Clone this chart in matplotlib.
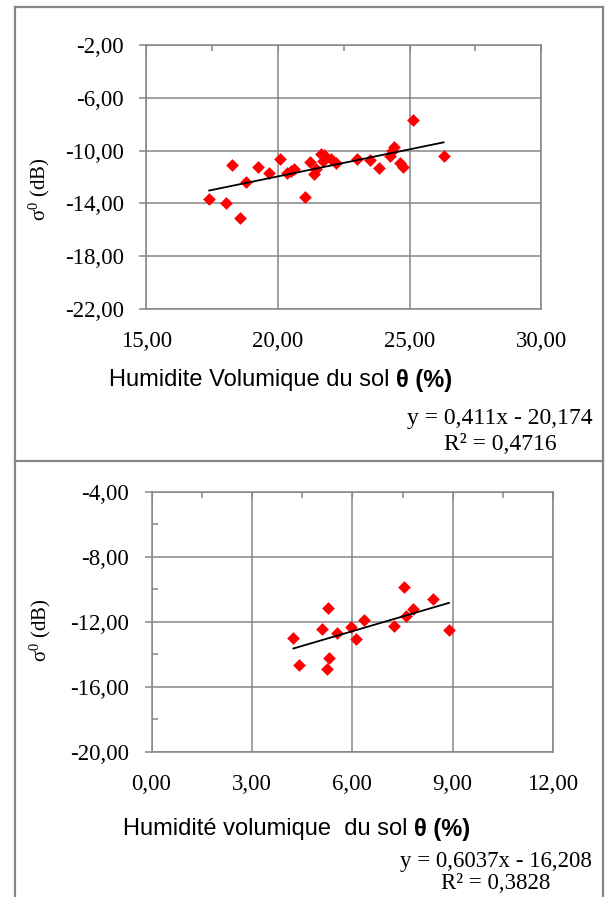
import numpy as np
import matplotlib
matplotlib.use("Agg")
import matplotlib.pyplot as plt
from matplotlib.ticker import MultipleLocator, FuncFormatter
from matplotlib.lines import Line2D

# -----------------------------
# Data
# -----------------------------
# top panel
theta_1 = [17.39, 18.01, 18.24, 18.57, 18.77, 19.23, 19.66, 20.09, 20.34, 20.48,
           20.62, 21.04, 21.23, 21.43, 21.38, 21.65, 21.73, 21.72, 22.00, 22.20,
           22.99, 23.49, 23.85, 24.27, 24.42, 24.32, 24.63, 24.73, 25.11, 26.29]
sigma_1 = [-13.67, -13.95, -11.09, -15.14, -12.38, -11.27, -11.67, -10.61, -11.70, -11.55,
           -11.42, -13.54, -10.89, -11.42, -11.75, -10.23, -10.35, -10.81, -10.66, -10.96,
           -10.66, -10.71, -11.29, -10.41, -9.70, -10.00, -10.96, -11.27, -7.65, -10.43]
slope_1, intercept_1, r2_1 = 0.411, -20.174, 0.4716

# bottom panel
theta_2 = [4.24, 4.42, 5.08, 5.26, 5.31, 5.25, 5.54, 5.96, 6.12, 6.36,
           7.26, 7.54, 7.60, 7.80, 8.41, 8.89]
sigma_2 = [-13.01, -14.65, -12.43, -11.14, -14.24, -14.89, -12.70, -12.33, -13.05, -11.88,
           -12.27, -9.85, -11.63, -11.20, -10.63, -12.51]
slope_2, intercept_2, r2_2 = 0.6037, -16.208, 0.3828

xlabel_1 = "Humidite Volumique du sol "
xlabel_2 = "Humidité volumique  du sol "
ylabel = r"$\mathregular{\sigma^0}$ (dB)"

W, H = 607, 897
fig = plt.figure(figsize=(W / 100, H / 100), dpi=100)
SERIF = "Liberation Serif"
SANS = "Liberation Sans"
GRAY = "#868686"

def px_axes(l, t, r, b):
    return fig.add_axes([l / W, 1 - b / H, (r - l) / W, (b - t) / H])

def comma(v, pos):
    return f"{v:.2f}".replace(".", ",")

def hline(x0, x1, y):
    fig.add_artist(Line2D([x0 / W, x1 / W], [1 - y / H, 1 - y / H],
                          transform=fig.transFigure, color=GRAY, lw=1.6))

def vline(x, y0, y1):
    fig.add_artist(Line2D([x / W, x / W], [1 - y0 / H, 1 - y1 / H],
                          transform=fig.transFigure, color=GRAY, lw=1.6))

# outer table frame
vline(14.5, 7, 897)
vline(603, 7, 897)
hline(14.5, 603, 7)
hline(14.5, 603, 461.5)

def panel(box, xs, ys, slope, icpt, r2, xlim, xstep, ylim, ystep, yoff, yminor,
          lab, lab_xy, ylab_xy, eq_xy, eq_size):
    ax = px_axes(*box)
    ax.scatter(xs, ys, marker="D", s=42, color="#ff0000", zorder=3, linewidths=0)
    xl = np.array([min(xs), max(xs)])
    ax.plot(xl, slope * xl + icpt, color="black", lw=1.3, zorder=4)
    ax.set_xlim(*xlim)
    ax.set_ylim(*ylim)
    ax.xaxis.set_major_locator(MultipleLocator(xstep))
    ax.yaxis.set_major_locator(MultipleLocator(ystep, offset=yoff))
    ax.xaxis.set_minor_locator(MultipleLocator(xstep / 2))
    ax.xaxis.set_major_formatter(FuncFormatter(comma))
    ax.yaxis.set_major_formatter(FuncFormatter(comma))
    ax.grid(True, which="major", color=GRAY, lw=1.1)
    for s in ax.spines.values():
        s.set_color(GRAY)
        s.set_linewidth(1.1)
    ax.tick_params(axis="x", which="major", bottom=False, top=True, direction="in",
                   length=4, color=GRAY, pad=16)
    ax.tick_params(axis="x", which="minor", bottom=False, top=True, direction="in",
                   length=4, color=GRAY, width=1.1)
    ax.tick_params(axis="y", which="major", left=True, direction="out", length=5,
                   color=GRAY, width=1.1, pad=11)
    if yminor:
        ax.yaxis.set_minor_locator(MultipleLocator(ystep / 2))
        ax.tick_params(axis="y", which="minor", left=True, direction="in", length=4,
                       color=GRAY, width=1.1)
    for t in ax.get_xticklabels() + ax.get_yticklabels():
        t.set_fontfamily(SERIF)
        t.set_fontsize(16.5)
    ax.set_axisbelow(True)

    # y label
    fig.text(ylab_xy[0] / W, 1 - ylab_xy[1] / H, ylabel, rotation=90, ha="center",
             va="center", fontsize=15, family=SERIF)

    # x label with bold part
    t1 = fig.text(lab_xy[0] / W, 1 - lab_xy[1] / H, lab, ha="left", va="center",
                  fontsize=17, family=SANS)
    fig.canvas.draw()
    bb = t1.get_window_extent()
    fig.text(bb.x1 / W, 1 - lab_xy[1] / H, "θ (%)", ha="left", va="center",
             fontsize=17, family=SANS, fontweight="bold")

    eq = f"y = {slope:g}x - {abs(icpt):g}".replace(".", ",")
    r2t = f"R² = {r2:g}".replace(".", ",")
    fig.text(eq_xy[0] / W, 1 - eq_xy[1] / H, eq, ha="center", va="center",
             fontsize=eq_size, family=SERIF)
    fig.text(eq_xy[0] / W, 1 - eq_xy[2] / H, r2t, ha="center", va="center",
             fontsize=eq_size, family=SERIF)
    return ax

panel((146.3, 45.3, 541.3, 308.7), theta_1, sigma_1, slope_1, intercept_1, r2_1,
      (15, 30), 5, (-22, -2), 4, 2, False,
      xlabel_1, (109, 380), (39, 189), (500, 418, 444), 17)
panel((151.5, 491.7, 553.1, 751.7), theta_2, sigma_2, slope_2, intercept_2, r2_2,
      (0, 12), 3, (-20, -4), 4, 0, True,
      xlabel_2, (123, 829), (40, 630), (496, 861, 883), 16.5)

fig.savefig("out.png", dpi=100)
